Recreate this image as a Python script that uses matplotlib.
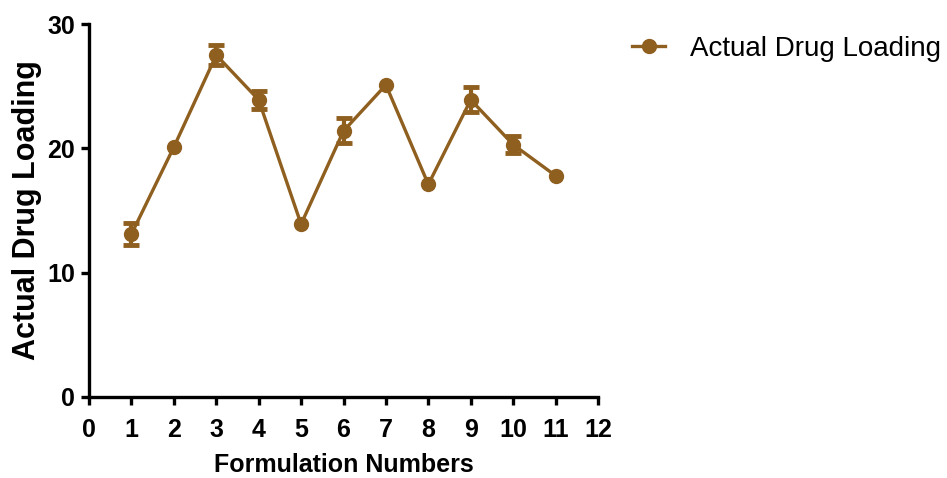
import matplotlib
matplotlib.use("Agg")
import matplotlib.pyplot as plt
from matplotlib.lines import Line2D

# data
formulations = [1, 2, 3, 4, 5, 6, 7, 8, 9, 10, 11]
loading = [13.1, 20.1, 27.5, 23.9, 13.9, 21.4, 25.1, 17.1, 23.9, 20.3, 17.8]
loading_err = [0.9, 0.0, 0.8, 0.7, 0.0, 1.0, 0.0, 0.0, 1.0, 0.7, 0.0]

xticks = list(range(0, 13))
yticks = [0, 10, 20, 30]

COLOR = "#8F5F1F"

plt.rcParams["font.family"] = ["Liberation Sans", "DejaVu Sans"]

fig = plt.figure(figsize=(9.47, 4.78), dpi=100)
ax = fig.add_axes([89 / 947, 1 - 397 / 478, (598 - 89) / 947, (397 - 24) / 478])

# line + markers
ax.plot(formulations, loading, color=COLOR, marker="o", markersize=10,
        linewidth=2.4, zorder=3)

# error bars only where there is an error
ex = [x for x, e in zip(formulations, loading_err) if e > 0]
ey = [y for y, e in zip(loading, loading_err) if e > 0]
ee = [e for e in loading_err if e > 0]
ax.errorbar(ex, ey, yerr=ee, fmt="none", ecolor=COLOR,
            elinewidth=3, capsize=6, capthick=3.5, zorder=4)

ax.set_xlim(0, 12)
ax.set_ylim(0, 30)
ax.set_xticks(xticks)
ax.set_yticks(yticks)

for side in ["top", "right"]:
    ax.spines[side].set_visible(False)
for side in ["left", "bottom"]:
    ax.spines[side].set_linewidth(2.4)

ax.tick_params(direction="out", length=6, width=2.4, labelsize=18)
ax.tick_params(axis="x", pad=9)
ax.tick_params(axis="y", pad=4)
for lab in ax.get_xticklabels() + ax.get_yticklabels():
    lab.set_fontweight("bold")

ax.set_xlabel("Formulation Numbers", fontsize=18, fontweight="bold", labelpad=8)
ax.set_ylabel("Actual Drug Loading", fontsize=22, fontweight="bold", labelpad=4)

handle = Line2D([], [], color=COLOR, marker="o", markersize=10, linewidth=2.4)
fig.legend([handle], ["Actual Drug Loading"], loc="upper left",
           bbox_to_anchor=(632 / 947, 1 - 36 / 478),
           frameon=False, fontsize=20, handlelength=1.2, handletextpad=0.9,
           borderaxespad=0, borderpad=0)

fig.savefig("out.png", dpi=100)
